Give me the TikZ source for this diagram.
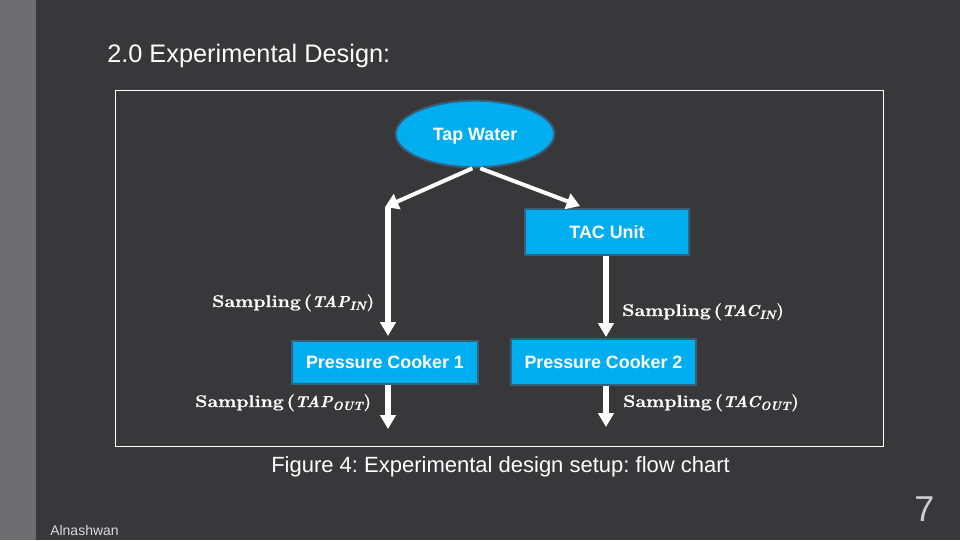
\documentclass[tikz,border=0pt]{standalone}
\usepackage{fontspec}
\setsansfont{Liberation Sans}
\newfontfamily\sampfont[BoldFeatures={FakeBold=0.6},BoldItalicFeatures={FakeBold=0.6}]{Latin Modern Roman}
\newfontfamily\sampwide[FakeStretch=1.15,BoldFeatures={FakeBold=0.6,FakeStretch=1.15}]{Latin Modern Roman}
\usetikzlibrary{shapes.geometric,arrows.meta}
\definecolor{slidebg}{HTML}{38383A}
\definecolor{bandcol}{HTML}{6E6E72}
\definecolor{boxfill}{HTML}{00AEEF}
\definecolor{boxedge}{HTML}{34607C}
\newcommand\sampvar[2]{{\sampwide\bfseries Sampling\hspace{2pt}(}{\itshape\fontsize{11.9}{14}\selectfont #1\raisebox{-2.2pt}{\fontsize{9}{10}\selectfont #2}}{\kern0.6pt)}}
\tikzset{
  boxbase/.style={fill=boxfill,draw=boxedge,line width=1.5pt,text=white,font=\sffamily\bfseries\fontsize{13.4}{15}\selectfont,inner sep=0pt},
  procbox/.style={boxbase,rectangle},
  startoval/.style={boxbase,ellipse,text depth=0pt},
  flow/.style={draw=white,line width=4pt,-{Triangle[length=10.5pt,width=11.5pt]}},
  diagflow/.style={draw=white,line width=3pt,-{Triangle[length=10pt,width=12pt]}},
  samplabel/.style={text=white,font=\sampfont\bfseries\fontsize{12.7}{15}\selectfont,inner sep=0pt},
  slidetext/.style={text=white,font=\sffamily,inner sep=0pt,anchor=base west}
}
\begin{document}
\begin{tikzpicture}[x=0.75pt,y=-0.75pt]
\frenchspacing
\useasboundingbox (0,0) rectangle (960,540);
\fill[slidebg] (0,0) rectangle (960,540);
\fill[bandcol] (0,0) rectangle (36,540);
\node[slidetext,font=\sffamily\fontsize{19}{22}\selectfont] (title) at (107,62) {2.0 Experimental Design:};
\node[draw=white,line width=0.75pt,inner sep=0pt,
  minimum width=576pt,minimum height=267pt,anchor=north west] (frame) at (114.5,89.5) {};
\node[startoval,minimum width=119pt,minimum height=50pt] (tap) at (475,134) {Tap Water};
\node[procbox,minimum width=123pt,minimum height=35pt] (tac) at (607,232) {\raisebox{-0.7pt}{TAC Unit}};
\node[procbox,minimum width=139pt,minimum height=32pt] (pc1) at (385,362.5) {Pressure Cooker 1};
\node[procbox,minimum width=139pt,minimum height=34pt] (pc2) at (603.5,362) {Pressure Cooker 2};
\coordinate (elbow) at (385,207);
\coordinate (elbowtop) at (388,207);
\coordinate (tacin) at (580,206);
\coordinate (pc1end) at (388,429);
\coordinate (pc2end) at (606,427);
\coordinate (pc1in) at (388,336);
\coordinate (pc2in) at (606,337);
\draw[diagflow] ([xshift=-2pt]tap.south) -- (elbow);
\draw[diagflow] ([xshift=4pt]tap.south) -- (tacin);
\draw[flow] (elbowtop) -- (pc1in);
\draw[flow] (tac.south -| pc2in) -- (pc2in);
\draw[flow] (pc1.south -| pc1end) -- (pc1end);
\draw[flow] (pc2.south -| pc2end) -- (pc2end);
\node[samplabel,anchor=base west] (s1) at (212,307) {\sampvar{TAP}{IN}};
\node[samplabel,anchor=base west] (s2) at (622,316) {\sampvar{TAC}{IN}};
\node[samplabel,anchor=base west] (s3) at (195,407) {\sampvar{TAP}{OUT}};
\node[samplabel,anchor=base west] (s4) at (623,407) {\sampvar{TAC}{OUT}};
\node[slidetext,font=\sffamily\fontsize{16.5}{18}\selectfont] (cap) at (271,472) {Figure 4: Experimental design setup: flow chart};
\node[slidetext,font=\sffamily\fontsize{10.5}{12}\selectfont,text=white!85!black] (auth) at (50,535) {Alnashwan};
\node[slidetext,font=\sffamily\fontsize{27}{30}\selectfont,text=white!80!black] (num) at (914,521) {7};
\end{tikzpicture}
\end{document}
